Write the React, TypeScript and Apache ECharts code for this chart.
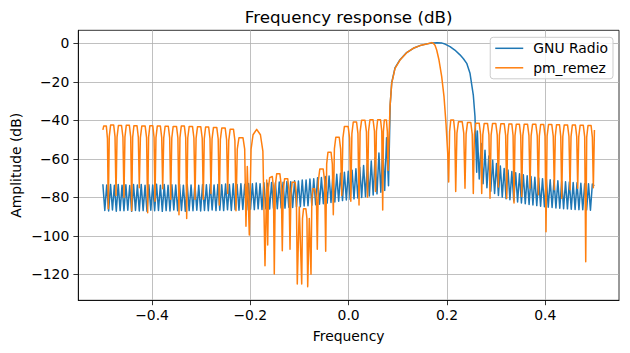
import React, { useEffect, useRef } from "react";
import * as echarts from "echarts";

const chartTitle = "Frequency response (dB)";
const xAxisTitle = "Frequency";
const yAxisTitle = "Amplitude (dB)";
const seriesNames = ["GNU Radio", "pm_remez"];
const xTickValues = [-0.4, -0.2, 0, 0.2, 0.4];
const yTickValues = [0, -20, -40, -60, -80, -100, -120];

// GNU Radio: stopband ripple sampled on a regular frequency grid (peak, trough, peak, ...)
const blueStep = 0.0039;
const blueLeftStart = -0.5;
const blueLeftDb = [
  -73.2, -86.8, -73.6, -87.1, -73.4, -86.6, -73.8, -87.2, -73.3, -86.9,
  -73.7, -87.0, -73.5, -86.7, -73.9, -87.3, -73.4, -86.8, -73.6, -87.1,
  -73.3, -86.9, -73.8, -87.2, -73.5, -86.7, -73.6, -87.0, -73.2, -86.8,
  -73.7, -87.3, -73.4, -86.9, -73.8, -87.1, -73.5, -86.6, -73.6, -87.0,
  -73.3, -86.8, -73.7, -87.2, -73.4, -86.9, -73.6, -87.0, -73.3, -86.7,
  -73.8, -87.1, -73.4, -86.8, -73.5, -87.0, -73.2, -86.6, -73.6, -86.9,
  -73.3, -86.7, -73.5, -86.9, -73.1, -86.5, -73.4, -86.8, -73.0, -86.4,
  -73.3, -86.7, -72.9, -86.3, -73.2, -86.6, -72.8, -86.2, -73.0, -86.4,
  -72.6, -86.0, -72.9, -86.3, -72.5, -85.9, -72.7, -86.1, -72.3, -85.7,
  -72.5, -85.9, -72.1, -85.5, -72.2, -85.6, -71.8, -85.2, -71.9, -85.3,
  -71.4, -84.9, -71.5, -84.9, -71.0, -84.5, -71.0, -84.4, -70.5, -84.1,
  -70.4, -83.9, -69.9, -83.6, -69.7, -83.3, -69.2, -83.0, -68.9, -82.7,
  -68.4, -82.4, -68.0, -82.0, -67.5, -81.7, -67.0, -81.4, -66.5, -81.1,
  -65.9, -80.8, -65.2, -80.4, -64.4, -80.1, -63.5, -79.7, -62.4, -79.3,
  -61.1, -78.8, -59.5, -78.2, -57.0, -77.4, -53.5, -76.4, -49.0, -74.0,
];
const bluePassband: [number, number][] = [
  [0.0845, -32], [0.0876, -20.5], [0.0943, -12.8], [0.1045, -8.5], [0.118, -4.8],
  [0.1315, -2.6], [0.145, -1.2], [0.159, -0.3], [0.17, 0.2], [0.18, 0.3],
  [0.19, 0.1], [0.196, -0.4], [0.2062, -1.7], [0.216, -3.5], [0.2265, -6],
  [0.2335, -8], [0.2402, -10.4], [0.2469, -15.6], [0.2536, -26.9], [0.257, -38],
  [0.2595, -58], [0.2605, -67],
];
const blueRightStart = 0.2618;
const blueRightDb = [
  -45.5, -70.5, -52.0, -73.0, -55.5, -75.0, -58.5, -76.8, -60.8, -78.0,
  -62.5, -79.0, -63.8, -79.9, -65.0, -80.7, -65.8, -81.3, -66.6, -81.9,
  -67.2, -82.4, -67.8, -82.9, -68.3, -83.3, -68.8, -83.7, -69.2, -84.0,
  -69.6, -84.3, -70.0, -84.6, -70.3, -84.9, -70.6, -85.1, -70.9, -85.3,
  -71.2, -85.5, -71.4, -85.7, -71.7, -85.9, -71.9, -86.0, -72.1, -86.2,
  -72.3, -86.3, -72.5, -86.4, -72.7, -86.5, -72.9, -86.6, -73.0, -86.7,
  -73.1, -74.0,
];

// pm_remez response: [frequency, dB]
const orangeResponse: [number, number][] = [
  [-0.5, -45], [-0.4982, -42.9], [-0.493, -42.9], [-0.4907, -49.5], [-0.489, -86],
  [-0.487, -48.5], [-0.4843, -42.5], [-0.478, -42.5], [-0.4753, -48.5], [-0.4733, -79],
  [-0.4712, -48.7], [-0.4684, -42.7], [-0.462, -42.7], [-0.4592, -48.7], [-0.4571, -80],
  [-0.4551, -48.6], [-0.4524, -42.6], [-0.4461, -42.6], [-0.4434, -48.6], [-0.4414, -87],
  [-0.4394, -48.8], [-0.4368, -42.8], [-0.4306, -42.8], [-0.4279, -48.8], [-0.4259, -75],
  [-0.4237, -49], [-0.4208, -43], [-0.414, -43], [-0.4111, -49], [-0.4089, -88],
  [-0.407, -48.8], [-0.4044, -42.8], [-0.3985, -42.8], [-0.3959, -48.8], [-0.394, -82],
  [-0.392, -49], [-0.3893, -43], [-0.383, -43], [-0.3803, -49], [-0.3783, -75.5],
  [-0.3762, -49.1], [-0.3734, -43.1], [-0.3669, -43.1], [-0.3641, -49.1], [-0.362, -81],
  [-0.3598, -49.2], [-0.357, -43.2], [-0.3502, -43.2], [-0.3474, -49.2], [-0.3452, -89],
  [-0.3432, -49], [-0.3405, -43], [-0.3342, -43], [-0.3315, -49], [-0.3295, -91],
  [-0.3273, -49.2], [-0.3244, -43.2], [-0.3177, -43.2], [-0.3148, -49.2], [-0.3126, -81],
  [-0.3104, -49.4], [-0.3075, -43.4], [-0.3008, -43.4], [-0.2979, -49.4], [-0.2957, -81],
  [-0.2937, -49.5], [-0.291, -43.5], [-0.2848, -43.5], [-0.2821, -49.5], [-0.2801, -78],
  [-0.2779, -49.7], [-0.275, -43.7], [-0.2683, -43.7], [-0.2654, -49.7], [-0.2632, -84],
  [-0.261, -50], [-0.2581, -44], [-0.2512, -44], [-0.2483, -50], [-0.2461, -78],
  [-0.2439, -50.6], [-0.241, -44.6], [-0.2343, -44.6], [-0.2314, -50.6], [-0.2292, -87],
  [-0.2266, -55], [-0.2231, -49], [-0.215, -49], [-0.2115, -55], [-0.2089, -95],
  [-0.2062, -64], [-0.2021, -99.6],
  [-0.1985, -55], [-0.1945, -47.5], [-0.1871, -44.7], [-0.1795, -47.5], [-0.1745, -56], [-0.1702, -115.5],
  [-0.1667, -71], [-0.1647, -104.8],
  [-0.163, -75], [-0.1607, -69.8], [-0.1553, -69.2], [-0.153, -75], [-0.1513, -119.8],
  [-0.1492, -73.8], [-0.1464, -67.8], [-0.1399, -67.8], [-0.1371, -73.8], [-0.135, -107.7],
  [-0.133, -76.3], [-0.1303, -70.3], [-0.124, -70.3], [-0.1213, -76.3], [-0.1193, -107],
  [-0.1174, -78.2], [-0.1149, -72.2], [-0.1089, -72.2], [-0.1064, -78.2], [-0.1045, -125],
  [-0.1004, -85], [-0.0955, -125],
  [-0.0939, -91], [-0.0918, -86], [-0.087, -86], [-0.0849, -91], [-0.0833, -126.4],
  [-0.0801, -91], [-0.0766, -120],
  [-0.0749, -81], [-0.0728, -75.5], [-0.069, -75.5], [-0.0655, -81], [-0.0638, -107],
  [-0.0616, -71.3], [-0.0587, -65.3], [-0.0518, -65.3], [-0.0489, -71.3], [-0.0467, -108],
  [-0.0447, -62.6], [-0.0421, -56.6], [-0.0358, -56.6], [-0.0332, -62.6], [-0.0312, -89],
  [-0.029, -54.8], [-0.0261, -48.8], [-0.0192, -48.8], [-0.0163, -54.8], [-0.0141, -79],
  [-0.0117, -49.2], [-0.0086, -43.2], [-0.0011, -43.2], [0.002, -49.2], [0.0044, -82],
  [0.0066, -46.9], [0.0094, -40.9], [0.0161, -40.9], [0.0189, -46.9], [0.0211, -84],
  [0.0233, -46], [0.0263, -40], [0.0332, -40], [0.0362, -46], [0.0384, -80],
  [0.0405, -45.7], [0.0433, -39.7], [0.0497, -39.7], [0.0525, -45.7], [0.0546, -77],
  [0.0565, -45.7], [0.059, -39.7], [0.0649, -39.7], [0.0674, -45.7], [0.0693, -86.6],
  [0.0707, -45.8], [0.0726, -39.8], [0.0768, -39.8], [0.0787, -45.8], [0.0801, -66],
  [0.0841, -33], [0.0876, -20.8], [0.0943, -13], [0.1045, -8.7], [0.1181, -4.9],
  [0.1315, -2.6], [0.1452, -1.2], [0.1588, -0.4], [0.169, 0.35], [0.1725, -0.1],
  [0.1757, -1], [0.1791, -3.5], [0.1838, -8.7], [0.1893, -17.3], [0.194, -27.7],
  [0.198, -41.6], [0.2015, -57], [0.2035, -72],
  [0.2054, -45.8], [0.2078, -39.8], [0.2135, -39.8], [0.2159, -45.8], [0.2178, -77],
  [0.2203, -46.7], [0.2235, -40.7], [0.231, -40.7], [0.2342, -46.7], [0.2367, -75.3],
  [0.2389, -47.2], [0.2418, -41.2], [0.2485, -41.2], [0.2514, -47.2], [0.2536, -78],
  [0.2558, -47.5], [0.2587, -41.5], [0.2656, -41.5], [0.2685, -47.5], [0.2707, -78],
  [0.2729, -47.6], [0.2758, -41.6], [0.2825, -41.6], [0.2854, -47.6], [0.2876, -80.5],
  [0.2898, -47.7], [0.2927, -41.7], [0.2994, -41.7], [0.3023, -47.7], [0.3045, -74.7],
  [0.3067, -47.8], [0.3096, -41.8], [0.3165, -41.8], [0.3194, -47.8], [0.3216, -80.5],
  [0.3235, -47.9], [0.326, -41.9], [0.332, -41.9], [0.3345, -47.9], [0.3364, -83],
  [0.3384, -48], [0.3411, -42], [0.3474, -42], [0.3501, -48], [0.3521, -79.6],
  [0.3543, -48], [0.3572, -42], [0.3639, -42], [0.3668, -48], [0.369, -75.3],
  [0.3712, -48.1], [0.3741, -42.1], [0.3808, -42.1], [0.3837, -48.1], [0.3859, -78.7],
  [0.3879, -48.2], [0.3906, -42.2], [0.3968, -42.2], [0.3995, -48.2], [0.4015, -97.9],
  [0.4037, -48.2], [0.4066, -42.2], [0.4133, -42.2], [0.4162, -48.2], [0.4184, -76.1],
  [0.4204, -48.3], [0.4229, -42.3], [0.429, -42.3], [0.4315, -48.3], [0.4335, -80.5],
  [0.4357, -48.4], [0.4386, -42.4], [0.4453, -42.4], [0.4482, -48.4], [0.4504, -76.1],
  [0.4524, -48.5], [0.4551, -42.5], [0.4613, -42.5], [0.464, -48.5], [0.466, -75.3],
  [0.4681, -48.6], [0.4709, -42.6], [0.4774, -42.6], [0.4802, -48.6], [0.4823, -113.5],
  [0.4843, -48.7], [0.487, -42.7], [0.4932, -42.7], [0.4958, -48.7], [0.4978, -75],
  [0.5, -45],
];

const FONT = "DejaVu Sans";
const BLUE = "#1f77b4";
const ORANGE = "#ff7f0e";

const minus = (s: string) => s.replace("-", "\u2212");

export default function App() {
  const ref = useRef<HTMLDivElement>(null);
  useEffect(() => {
    if (!ref.current) return;
    const chart = echarts.init(ref.current, undefined, { renderer: "svg" });
    const round = (v: number) => Math.round(v * 100000) / 100000;
    const blueData: [number, number][] = [
      ...blueLeftDb.map((v, i) => [round(blueLeftStart + i * blueStep), v] as [number, number]),
      ...bluePassband,
      ...blueRightDb.map((v, i) => [round(blueRightStart + i * blueStep), v] as [number, number]),
    ];
    const gridLeft = 78.3;
    const gridRight = 619;
    const gridTop = 30.3;
    const gridBottom = 300.3;
    chart.setOption({
      animation: false,
      grid: {
        left: gridLeft,
        right: 630 - gridRight,
        top: gridTop,
        bottom: 353 - gridBottom,
        show: true,
        borderColor: "#000",
        borderWidth: 0.8,
        backgroundColor: "transparent",
        containLabel: false,
        outerBoundsMode: "none",
      },
      xAxis: {
        type: "value",
        min: -0.55,
        max: 0.55,
        axisLine: { show: true, onZero: false, lineStyle: { color: "#000", width: 0.8 } },
        axisTick: { show: true, customValues: xTickValues, length: 4.9, lineStyle: { color: "#000", width: 0.8 } },
        axisLabel: {
          customValues: xTickValues,
          formatter: (v: number) => minus(v.toFixed(1)),
          margin: 8,
          color: "#000",
          fontSize: 13.9,
          fontFamily: FONT,
        },
        splitLine: { show: true, lineStyle: { color: "#b0b0b0", width: 0.8 } },
      },
      yAxis: {
        type: "value",
        min: -133.5,
        max: 6.75,
        axisLine: { show: true, onZero: false, lineStyle: { color: "#000", width: 0.8 } },
        axisTick: { show: true, customValues: yTickValues, length: 4.9, lineStyle: { color: "#000", width: 0.8 } },
        axisLabel: {
          customValues: yTickValues,
          formatter: (v: number) => minus(String(Math.round(v))),
          margin: 9,
          color: "#000",
          fontSize: 13.9,
          fontFamily: FONT,
        },
        splitLine: { show: true, lineStyle: { color: "#b0b0b0", width: 0.8 } },
      },
      legend: {
        data: seriesNames,
        orient: "vertical",
        right: 630 - 613,
        top: 37.3,
        icon: "rect",
        itemWidth: 28,
        itemHeight: 1.5,
        itemGap: 5.5,
        padding: [4, 5, 4, 5],
        backgroundColor: "rgba(255,255,255,0.8)",
        borderColor: "#cccccc",
        borderWidth: 1,
        borderRadius: 3,
        textStyle: { fontSize: 13.9, fontFamily: FONT, color: "#000", padding: [0, 0, 0, 5] },
      },
      graphic: [
        {
          type: "text",
          x: 348.65,
          y: 16.7,
          style: {
            text: chartTitle, fontSize: 16.7, fontFamily: FONT, fill: "#000",
            align: "center", verticalAlign: "middle", textAlign: "center", textVerticalAlign: "middle",
          },
        },
        {
          type: "text",
          x: 348.65,
          y: 336,
          style: {
            text: xAxisTitle, fontSize: 13.9, fontFamily: FONT, fill: "#000",
            align: "center", verticalAlign: "middle", textAlign: "center", textVerticalAlign: "middle",
          },
        },
        {
          type: "text",
          x: 16,
          y: 165.3,
          rotation: Math.PI / 2,
          style: {
            text: yAxisTitle, fontSize: 13.9, fontFamily: FONT, fill: "#000",
            align: "center", verticalAlign: "middle", textAlign: "center", textVerticalAlign: "middle",
          },
        },
      ],
      series: [
        {
          name: seriesNames[0],
          type: "line",
          data: blueData,
          showSymbol: false,
          symbol: "none",
          clip: true,
          z: 2,
          itemStyle: { color: BLUE },
          lineStyle: { color: BLUE, width: 1.5, join: "round" },
        },
        {
          name: seriesNames[1],
          type: "line",
          data: orangeResponse,
          showSymbol: false,
          symbol: "none",
          clip: true,
          z: 3,
          itemStyle: { color: ORANGE },
          lineStyle: { color: ORANGE, width: 1.5, join: "round" },
        },
      ],
    });
    return () => chart.dispose();
  }, []);
  return (
    <div
      ref={ref}
      style={{ position: "fixed", left: 0, top: 0, width: 630, height: 353, background: "#fff" }}
    />
  );
}
